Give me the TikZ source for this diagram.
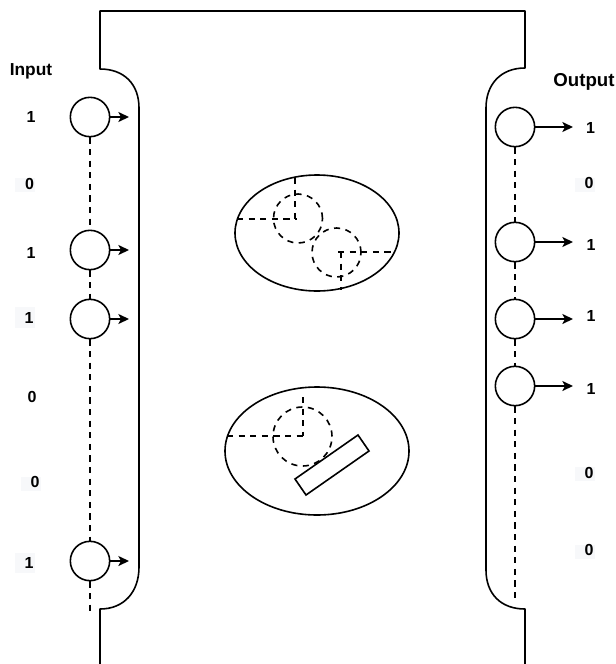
\documentclass[tikz,border=0pt]{standalone}
\usepackage{fontspec}
\setmainfont{Liberation Sans}
\usetikzlibrary{arrows.meta}
\definecolor{shade}{HTML}{F7F8FA}
\tikzset{
  x=0.75pt,y=-0.75pt,
  wire/.style={draw=black,line width=1.2pt},
  dashline/.style={draw=black,line width=1.2pt,dash pattern=on 4.6pt off 4.1pt},
  port/.style={circle,draw=black,line width=1.2pt,minimum size=29.5pt,inner sep=0pt},
  ghost/.style={circle,dashline,inner sep=0pt},
  arr/.style={draw=black,line width=1.2pt,-{Stealth[length=8pt,width=7.5pt,inset=2pt]}},
  bit/.style={font=\fontsize{12}{14}\selectfont\bfseries,inner sep=0pt},
  head/.style={font=\fontsize{13}{15}\selectfont\bfseries,inner sep=0pt},
  bitbg/.style={fill=shade,draw=none}
}
\begin{document}
\begin{tikzpicture}
\useasboundingbox (0,0) rectangle (615,664);
% faint backgrounds behind some digits
\fill[bitbg] (15,178) rectangle (35,192);
\fill[bitbg] (15,307) rectangle (35,328);
\fill[bitbg] (21,477) rectangle (41,491);
\fill[bitbg] (15,553) rectangle (35,573);
\fill[bitbg] (575,178) rectangle (595,192);
\fill[bitbg] (575,467) rectangle (595,481);
\fill[bitbg] (575,545) rectangle (595,559);
% outline
\draw[wire,line join=round] (100,664) -- (100,609) .. controls (124,609) and (139,592) .. (139,567) -- (139,108) .. controls (139,84) and (124,69) .. (100,69) -- (100,11) -- (525,11) -- (525,68) .. controls (501,68) and (486,84) .. (486,108) -- (486,570) .. controls (486,594) and (501,609) .. (525,609) -- (525,664);
% left column
\node[port] (L1) at (90,117) {};
\node[port] (L2) at (90,250) {};
\node[port] (L3) at (90,319) {};
\node[port] (L4) at (90,561) {};
\coordinate (Lend) at (90,611);
\coordinate (La1) at (129,117);
\coordinate (La2) at (129,250);
\coordinate (La3) at (129,319);
\coordinate (La4) at (129,561);
\draw[dashline] (L1) -- (L2);
\draw[dashline] (L2) -- (L3);
\draw[dashline] (L3) -- (L4);
\draw[dashline] (L4) -- (Lend);
\draw[arr] (L1) -- (La1);
\draw[arr] (L2) -- (La2);
\draw[arr] (L3) -- (La3);
\draw[arr] (L4) -- (La4);
% right column
\node[port] (R1) at (515,127) {};
\node[port] (R2) at (515,242) {};
\node[port] (R3) at (515,319) {};
\node[port] (R4) at (515,386) {};
\coordinate (Rend) at (515,600);
\coordinate (Ra1) at (573,127);
\coordinate (Ra2) at (573,242);
\coordinate (Ra3) at (573,319);
\coordinate (Ra4) at (573,386);
\draw[dashline] (R1) -- (R2);
\draw[dashline] (R2) -- (R3);
\draw[dashline] (R3) -- (R4);
\draw[dashline] (R4) -- (Rend);
\draw[arr] (R1) -- (Ra1);
\draw[arr] (R2) -- (Ra2);
\draw[arr] (R3) -- (Ra3);
\draw[arr] (R4) -- (Ra4);
% labels
\node[head] (inlab) at (31,71) {Input};
\node[head,font=\fontsize{14}{16}\selectfont\bfseries] (outlab) at (584,82) {Output};
\node[bit] (i1) at (31,117) {1};
\node[bit] (i2) at (29.5,184) {0};
\node[bit] (i3) at (31,253) {1};
\node[bit] (i4) at (29,318) {1};
\node[bit] (i5) at (32,397) {0};
\node[bit] (i6) at (35,482) {0};
\node[bit] (i7) at (29,563) {1};
\node[bit] (o1) at (590.5,128) {1};
\node[bit] (o2) at (589,183) {0};
\node[bit] (o3) at (591,244.5) {1};
\node[bit] (o4) at (591,316) {1};
\node[bit] (o5) at (591,389) {1};
\node[bit] (o6) at (589,473) {0};
\node[bit] (o7) at (589,550) {0};
% upper ellipse
\draw[wire] (317,233) ellipse [x radius=82,y radius=58];
\node[ghost,minimum size=36.75pt] (c1) at (298,218.5) {};
\node[ghost,minimum size=36.75pt] (c2) at (336.5,252.5) {};
\coordinate (c1t) at (295,178);
\coordinate (c1l) at (237,219);
\coordinate (c1m) at (297,219);
\coordinate (c1v) at (295,219);
\coordinate (c2l) at (338,252);
\coordinate (c2r) at (392,252);
\coordinate (c2v) at (341,252);
\coordinate (c2b) at (341,290);
\draw[dashline] (c1t) -- (c1v);
\draw[dashline] (c1l) -- (c1m);
\draw[dashline] (c2l) -- (c2r);
\draw[dashline] (c2v) -- (c2b);
% lower ellipse
\draw[wire] (317,451) ellipse [x radius=92,y radius=64];
\node[ghost,minimum size=44.25pt] (c3) at (302.5,436.5) {};
\coordinate (c3t) at (303,397);
\coordinate (c3l) at (227,436);
\coordinate (c3m) at (303,436);
\draw[dashline] (c3t) -- (c3m);
\draw[dashline] (c3l) -- (c3m);
\draw[wire,line join=miter] (358,435) -- (369,451) -- (306,495) -- (295,479) -- cycle;
\end{tikzpicture}
\end{document}
